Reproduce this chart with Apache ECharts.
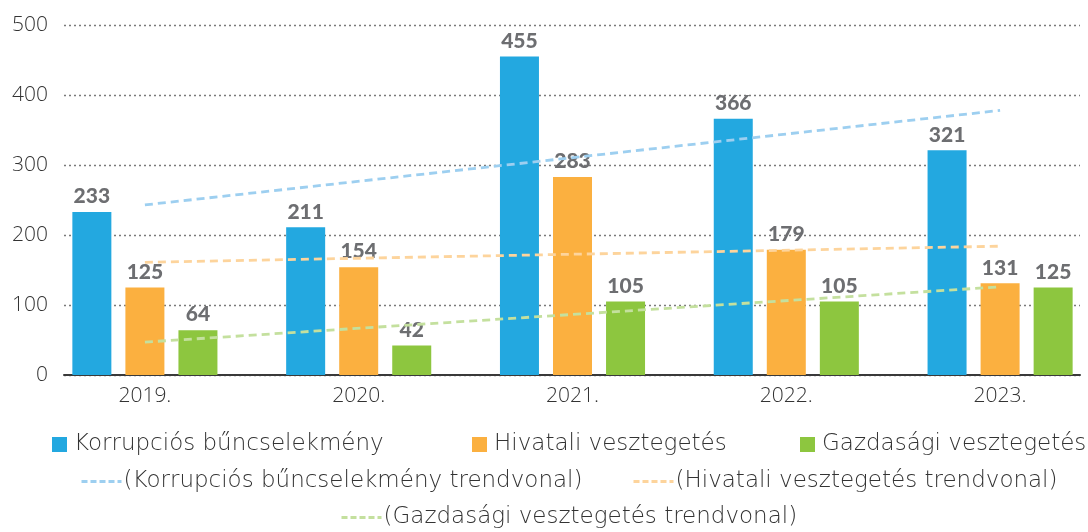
<!DOCTYPE html>
<html>
<head>
<meta charset="utf-8">
<script src="https://cdn.jsdelivr.net/npm/echarts@6/dist/echarts.min.js"></script>
<style>
  html, body { margin: 0; padding: 0; background: #fff; }
  #chart { width: 1088px; height: 532px; }
</style>
</head>
<body>
<div id="chart"></div>
<script>
// categories and values
const years = ['2019.', '2020.', '2021.', '2022.', '2023.'];
const korrupcios = [233, 211, 455, 366, 321];
const hivatali = [125, 154, 283, 179, 131];
const gazdasagi = [64, 42, 105, 105, 125];

// trend lines: start (2019) and end (2023) values
const korrTrend = [[0, 243], [4, 378]];
const hivTrend = [[0, 161], [4, 184]];
const gazdTrend = [[0, 47], [4, 126]];

const names = {
    k: 'Korrupciós bűncselekmény',
    h: 'Hivatali vesztegetés',
    g: 'Gazdasági vesztegetés',
    kt: '(Korrupciós bűncselekmény trendvonal)',
    ht: '(Hivatali vesztegetés trendvonal)',
    gt: '(Gazdasági vesztegetés trendvonal)'
};

const font = 'Open Sans';
const legendFont = 'DejaVu Sans';
const textColor = '#333333';

function barLabel() {
    return {
        show: true,
        position: 'top',
        distance: 5,
        fontFamily: 'Lato',
        fontWeight: 900,
        fontSize: 21,
        color: '#6d6e71'
    };
}

function barSeries(name, data, color) {
    return {
        name: name,
        type: 'bar',
        xAxisIndex: 1,
        yAxisIndex: 1,
        data: data,
        barWidth: 39,
        barGap: '36%',
        itemStyle: { color: color },
        label: barLabel()
    };
}

function trendSeries(name, data, color) {
    return {
        name: name,
        type: 'line',
        xAxisIndex: 1,
        yAxisIndex: 1,
        data: data,
        symbol: 'none',
        z: 5,
        lineStyle: { color: color, width: 2.8, type: [8, 5] },
        itemStyle: { color: color }
    };
}

// one legend per item so each sits where it does in the picture
function legendItem(name, left, top, isLine) {
    const item = {
        data: [name],
        left: left,
        top: top,
        itemWidth: isLine ? 40 : 15,
        itemHeight: isLine ? 11 : 15,
        padding: 0,
        textStyle: {
            fontFamily: legendFont, fontWeight: 200, fontSize: 23, color: textColor,
            padding: [0, 0, 0, isLine ? -3 : 2]
        },
        selectedMode: false
    };
    if (isLine) {
        item.itemStyle = { opacity: 0 };
        item.lineStyle = { width: 3, type: [6, 3] };
    } else {
        item.icon = 'rect';
    }
    return item;
}

const chart = echarts.init(document.getElementById('chart'));
chart.setOption({
    animation: false,
    grid: [
        { left: 64, right: 8, top: 25, height: 350, outerBoundsMode: 'none' },
        { left: 38, width: 1069, top: 25, height: 350, outerBoundsMode: 'none' }
    ],
    xAxis: [
        {
            gridIndex: 0, type: 'value', min: 0, max: 1,
            axisLine: { show: true, onZero: false, lineStyle: { color: '#3a3a3a', width: 2 } },
            axisTick: { show: false }, axisLabel: { show: false }, splitLine: { show: false }
        },
        {
            gridIndex: 1, type: 'category', data: years,
            axisLine: { show: false }, axisTick: { show: false },
            axisLabel: { fontFamily: font, fontWeight: 300, fontSize: 21, color: textColor, margin: 11 }
        }
    ],
    yAxis: [
        {
            gridIndex: 0, type: 'value', min: 0, max: 500, interval: 100,
            axisLine: { show: false }, axisTick: { show: false },
            axisLabel: { fontFamily: font, fontWeight: 300, fontSize: 21, color: textColor, margin: 16 },
            splitLine: { lineStyle: { color: '#7a7a7a', type: [2, 3], width: 1.3 } }
        },
        {
            gridIndex: 1, type: 'value', min: 0, max: 500, interval: 100,
            axisLine: { show: false }, axisTick: { show: false },
            axisLabel: { show: false }, splitLine: { show: false }
        }
    ],
    legend: [
        legendItem(names.k, 52, 433, false),
        legendItem(names.h, 472, 433, false),
        legendItem(names.g, 800, 433, false),
        legendItem(names.kt, 80, 470, true),
        legendItem(names.ht, 632, 470, true),
        legendItem(names.gt, 340, 506, true)
    ],
    series: [
        barSeries(names.k, korrupcios, '#23a8e0'),
        barSeries(names.h, hivatali, '#fbb040'),
        barSeries(names.g, gazdasagi, '#8dc63f'),
        trendSeries(names.kt, korrTrend, '#9dcff0'),
        trendSeries(names.ht, hivTrend, '#fdd49c'),
        trendSeries(names.gt, gazdTrend, '#c4e09e')
    ]
});
</script>
</body>
</html>
